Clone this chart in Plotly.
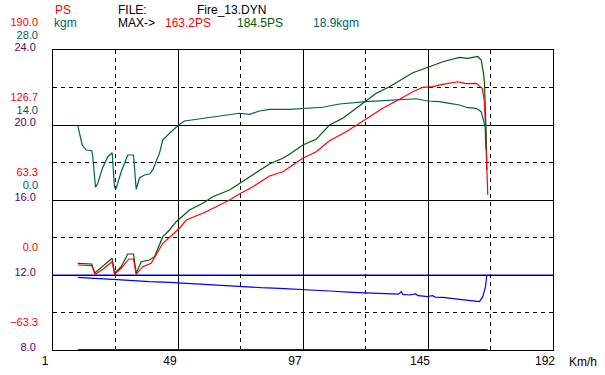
import plotly.graph_objects as go

# ---------------- data ----------------
# Speed axis (km/h)
x_tick_vals = [1, 48.75, 96.5, 144.25, 192]
x_tick_text = ["1", "49", "97", "145", "192"]
x_minor_vals = [24.875, 72.625, 120.375, 168.125]

# PS axis (red)
ps_tick_vals = [-63.3, 0.0, 63.3, 126.7, 190.0]
# kgm axis (teal)
kgm_tick_vals = [0.0, 14.0, 28.0]
# third axis (purple)
aux_tick_vals = [8.0, 12.0, 16.0, 20.0, 24.0]
aux_minor_vals = [10.0, 14.0, 18.0, 22.0]

# torque (kgm)
torque_speed = [10.47, 12.15, 13.68, 15.82, 16.20, 17.24, 18.11, 19.91, 21.93, 23.61,
                24.49, 25.14, 27.05, 29.57, 31.75, 32.78, 34.04, 35.95, 37.86, 39.12,
                41.68, 42.94, 45.50, 48.67, 51.23, 58.22, 64.60, 72.24, 76.06, 79.88,
                83.70, 91.34, 104.06, 110.44, 120.64, 129.54, 133.36, 139.74, 144.17, 148.64,
                152.46, 156.28, 159.45, 162.66, 164.57, 165.45, 166.10, 166.22, 166.48]
torque_kgm = [13.87, 10.27, 9.33, 9.20, 8.08, 2.37, 3.12, 5.97, 8.08, 8.83,
              2.37, 2.19, 5.28, 8.40, 8.40, 2.00, 4.11, 4.67, 4.85, 5.60,
              8.77, 11.20, 12.45, 13.87, 14.75, 15.25, 15.68, 16.19, 16.00, 16.61,
              16.93, 16.93, 17.31, 17.92, 18.35, 18.67, 18.70, 18.90, 18.48, 18.35,
              18.05, 17.73, 17.23, 17.12, 16.48, 14.93, 13.68, 11.20, 9.33]

# wheel power (PS, red)
red_speed = [10.47, 15.82, 17.24, 20.02, 23.61, 24.49, 27.05, 29.96, 31.75, 32.78,
             35.30, 38.51, 42.94, 49.32, 51.88, 58.22, 63.34, 68.42, 72.24, 77.32,
             83.70, 88.78, 91.34, 96.42, 101.54, 106.62, 113.00, 117.43, 120.64, 126.98,
             133.36, 138.44, 142.26, 146.08, 149.90, 155.63, 158.84, 162.66, 164.95, 165.83,
             166.10, 166.48, 166.71, 167.09]
red_ps = [8.47, 7.88, 0.62, 4.84, 11.25, 0.62, 5.69, 13.54, 13.54, 0.62,
          7.04, 9.91, 26.79, 39.45, 46.46, 52.12, 57.69, 63.35, 68.42, 74.58,
          83.61, 87.24, 90.96, 98.56, 104.13, 113.42, 121.02, 127.27, 132.33, 140.78,
          148.37, 154.79, 158.51, 159.01, 161.04, 163.20, 161.55, 161.88, 157.66, 146.35,
          130.90, 101.35, 88.68, 67.57]

# engine power (PS, green)
green_speed = [10.47, 15.82, 16.85, 20.02, 23.61, 24.49, 27.05, 29.57, 31.75, 32.78,
               34.69, 37.86, 39.77, 42.94, 45.50, 48.06, 53.14, 58.22, 62.04, 68.42,
               72.24, 77.32, 83.70, 88.78, 91.34, 96.42, 101.54, 106.62, 111.70, 116.82,
               120.64, 124.46, 129.54, 134.62, 138.44, 144.82, 149.90, 156.28, 159.45, 163.27,
               164.57, 165.45, 165.83, 166.10, 166.48, 166.71]
green_ps = [9.90, 9.31, 1.46, 7.03, 14.13, 1.46, 7.03, 17.76, 17.76, 1.46,
            11.25, 12.69, 15.48, 32.36, 38.02, 45.03, 54.91, 60.56, 66.14, 71.79,
            77.45, 84.46, 93.75, 98.56, 101.94, 109.79, 114.60, 126.68, 132.33, 140.78,
            146.94, 153.44, 159.01, 166.11, 170.83, 175.90, 180.12, 183.84, 182.99, 184.50,
            181.56, 170.33, 161.88, 142.13, 119.67, 88.68]

# blue trace (purple axis units)
blue_speed = [10.47, 16.20, 16.85, 23.84, 30.87, 37.86, 45.50, 51.88, 59.52, 65.86,
              73.50, 80.53, 87.52, 96.42, 106.62, 115.52, 123.16, 133.00, 134.00, 134.60,
              137.18, 138.50, 139.50, 140.50, 144.17, 145.00, 146.00, 147.00, 149.90, 156.28,
              163.92, 165.18, 166.22, 166.71]
blue_val = [11.877, 11.856, 11.824, 11.771, 11.696, 11.643, 11.611, 11.557, 11.504, 11.429,
            11.376, 11.323, 11.291, 11.237, 11.147, 11.077, 11.024, 10.975, 11.110, 10.970,
            10.933, 10.950, 10.990, 10.900, 10.843, 10.880, 10.900, 10.820, 10.811, 10.704,
            10.576, 10.843, 11.376, 12.000]

# purple trace along the bottom
purple_speed = [10.5, 167.0]
purple_val = [8.0, 8.0]

reference_level = 12.0

# ---------------- styling ----------------
RED = "#FF0000"
GREEN = "#005A00"
TEAL = "#005F5F"
PURPLE = "#600060"
BLUE = "#0000FF"
FONT = "Liberation Sans"
TICK_SIZE = 11

fig = go.Figure()

fig.add_trace(go.Scatter(x=purple_speed, y=purple_val, mode="lines",
                         line=dict(color=PURPLE, width=2), yaxis="y", hoverinfo="skip",
                         cliponaxis=False))
fig.add_trace(go.Scatter(x=blue_speed, y=blue_val, mode="lines",
                         line=dict(color=BLUE, width=1.2), yaxis="y"))
fig.add_trace(go.Scatter(x=torque_speed, y=torque_kgm, mode="lines",
                         line=dict(color=TEAL, width=1.2), yaxis="y3"))
fig.add_trace(go.Scatter(x=green_speed, y=green_ps, mode="lines",
                         line=dict(color=GREEN, width=1.2), yaxis="y2"))
fig.add_trace(go.Scatter(x=red_speed, y=red_ps, mode="lines",
                         line=dict(color=RED, width=1.2), yaxis="y2"))

common_y = dict(showgrid=False, zeroline=False, ticks="", tickformat=".1f",
                ticklabelstandoff=14, fixedrange=True, automargin=False)

fig.update_layout(
    width=605, height=375,
    margin=dict(l=53, r=52, t=50, b=25, pad=0, autoexpand=False),
    paper_bgcolor="white", plot_bgcolor="white",
    showlegend=False,
    font=dict(family=FONT, size=12, color="black"),
    xaxis=dict(range=[1, 192], tickvals=x_tick_vals, ticktext=x_tick_text,
               showgrid=True, gridcolor="black", gridwidth=1,
               minor=dict(tickvals=x_minor_vals, showgrid=True, gridcolor="black",
                          griddash="4px,4px", gridwidth=1),
               zeroline=False, showline=True, linecolor="black", linewidth=1, mirror=True,
               layer="below traces",
               ticks="", ticklabelshift=-8, ticklabelstandoff=0, automargin=False,
               tickfont=dict(color="black", size=12, family=FONT)),
    yaxis=dict(range=[8, 24], tickvals=aux_tick_vals, showgrid=True, gridcolor="black",
               gridwidth=1,
               minor=dict(tickvals=aux_minor_vals, showgrid=True, gridcolor="black",
                          griddash="4px,4px", gridwidth=1),
               zeroline=False, showline=True, linecolor="black", linewidth=1, mirror=True,
               layer="below traces",
               ticks="", tickformat=".1f", ticklabelstandoff=14, ticklabelshift=-3,
               automargin=False,
               tickfont=dict(color=PURPLE, size=TICK_SIZE, family=FONT)),
    yaxis2=dict(range=[-63.3, 190], tickvals=ps_tick_vals, overlaying="y", side="left",
                anchor="x", ticklabelshift=-28,
                tickfont=dict(color=RED, size=TICK_SIZE, family=FONT), **common_y),
    yaxis3=dict(range=[-28, 28], tickvals=kgm_tick_vals, overlaying="y", side="left",
                anchor="x", ticklabelshift=-15,
                tickfont=dict(color=TEAL, size=TICK_SIZE, family=FONT), **common_y),
    shapes=[dict(type="line", xref="paper", x0=0, x1=1, yref="y", y0=reference_level,
                 y1=reference_level, line=dict(color=BLUE, width=1), layer="below")],
)

def header(text, px, py, color="black"):
    fig.add_annotation(text=text, xref="paper", yref="paper",
                       x=(px - 53.5) / 500.0, y=(350 - py) / 300.0,
                       xanchor="left", yanchor="middle", showarrow=False,
                       font=dict(family=FONT, size=12, color=color))

header("PS", 53, 9.5, RED)
header("FILE:", 116, 9.5)
header("Fire_13.DYN", 195, 9.5)
header("kgm", 52, 23, TEAL)
header("MAX->", 116, 23)
header("163.2PS", 163, 23, RED)
header("184.5PS", 235, 23, GREEN)
header("18.9kgm", 311, 23, TEAL)
header("Km/h", 567, 361.5)

fig.write_html("out.html",
               config={"displayModeBar": False, "staticPlot": True},
               post_script="document.body.style.margin='0px';"
                           "document.body.style.overflow='hidden';")
